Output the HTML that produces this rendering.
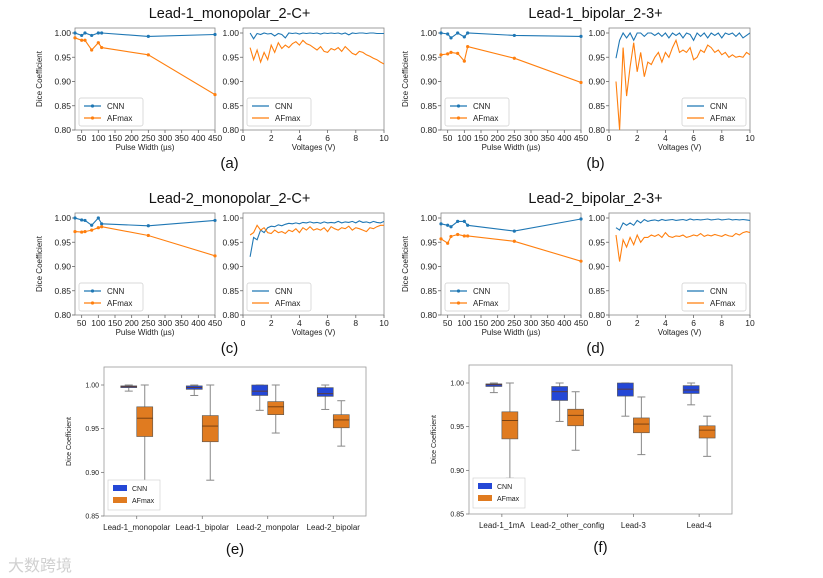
<!DOCTYPE html>
<html><head><meta charset="utf-8">
<style>
html,body{margin:0;padding:0;background:#fff;}
svg{display:block;font-family:"Liberation Sans","Noto Sans CJK SC",sans-serif;}
</style></head>
<body>
<svg id="fig" width="823" height="578" viewBox="0 0 823 578" xmlns="http://www.w3.org/2000/svg">
<text x="8" y="571" font-size="16" fill="#d0d0d0">大数跨境</text>
</svg>
<script>
// ---- Data ----
const pulseWidths = [30, 50, 60, 80, 100, 110, 250, 450];
const voltages = [0.5,0.75,1,1.25,1.5,1.75,2,2.25,2.5,2.75,3,3.25,3.5,3.75,4,4.25,4.5,4.75,5,5.25,5.5,5.75,6,6.25,6.5,6.75,7,7.25,7.5,7.75,8,8.25,8.5,8.75,9,9.25,9.5,9.75,10];
const yTicks = [0.80, 0.85, 0.90, 0.95, 1.00];
const pwTicks = [50,100,150,200,250,300,350,400,450];
const vTicks = [0,2,4,6,8,10];

const aPwCnn = [1.0,0.995,1.0,0.995,1.0,1.0,0.993,0.997];
const aPwAf  = [0.99,0.985,0.985,0.965,0.98,0.97,0.955,0.873];
const bPwCnn = [1.0,0.998,0.99,1.0,0.992,1.0,0.995,0.993];
const bPwAf  = [0.955,0.957,0.96,0.958,0.942,0.972,0.948,0.898];
const cPwCnn = [1.0,0.996,0.995,0.985,1.0,0.988,0.984,0.995];
const cPwAf  = [0.972,0.971,0.972,0.975,0.98,0.982,0.964,0.922];
const dPwCnn = [0.988,0.985,0.982,0.993,0.993,0.985,0.973,0.998];
const dPwAf  = [0.957,0.948,0.962,0.966,0.963,0.963,0.952,0.911];

const aVCnn = [1.0,0.988,0.999,0.997,1.0,0.998,0.999,0.994,0.999,0.997,0.990,1.0,0.999,1.0,0.998,1.0,0.999,1.0,0.999,1.0,0.998,1.0,0.999,1.0,0.999,1.0,0.998,1.0,0.996,1.0,0.999,1.0,1.0,0.999,1.0,1.0,0.999,0.999,0.999];
const aVAf  = [0.970,0.945,0.965,0.940,0.960,0.945,0.975,0.960,0.980,0.968,0.975,0.970,0.978,0.982,0.975,0.985,0.978,0.975,0.970,0.965,0.972,0.962,0.960,0.968,0.965,0.970,0.962,0.972,0.965,0.958,0.955,0.962,0.960,0.955,0.952,0.948,0.945,0.940,0.936];
const bVCnn = [0.948,0.985,1.0,0.99,1.0,0.985,1.0,1.0,0.993,1.0,1.0,0.995,1.0,0.993,1.0,0.99,1.0,0.995,1.0,0.99,1.0,0.997,0.985,1.0,0.993,1.0,0.99,1.0,0.995,1.0,0.99,1.0,0.997,1.0,0.993,1.0,0.99,0.995,1.0];
const bVAf  = [0.90,0.80,0.97,0.87,0.93,0.98,0.92,0.96,0.91,0.94,0.935,0.95,0.96,0.94,0.96,0.95,0.97,0.985,0.96,0.965,0.96,0.97,0.945,0.95,0.965,0.96,0.975,0.97,0.96,0.965,0.955,0.96,0.95,0.955,0.95,0.952,0.95,0.96,0.955];
const cVCnn = [0.92,0.96,0.955,0.975,0.97,0.98,0.983,0.982,0.986,0.984,0.987,0.989,0.988,0.99,0.988,0.991,0.99,0.992,0.99,0.991,0.989,0.992,0.99,0.991,0.99,0.993,0.99,0.992,0.991,0.993,0.99,0.994,0.991,0.992,0.99,0.993,0.991,0.99,0.993];
const cVAf  = [0.965,0.97,0.985,0.975,0.98,0.97,0.968,0.975,0.97,0.972,0.968,0.975,0.972,0.978,0.97,0.98,0.975,0.982,0.975,0.978,0.975,0.98,0.972,0.982,0.978,0.975,0.98,0.978,0.983,0.975,0.98,0.978,0.975,0.972,0.98,0.978,0.982,0.985,0.985];
const dVCnn = [0.98,0.975,0.99,0.985,0.99,0.985,0.995,0.99,0.997,0.993,0.995,0.996,0.994,0.997,0.995,0.996,0.997,0.995,0.996,0.997,0.995,0.998,0.996,0.997,0.996,0.997,0.998,0.996,0.997,0.998,0.996,0.997,0.998,0.996,0.997,0.996,0.997,0.996,0.995];
const dVAf  = [0.965,0.91,0.955,0.94,0.96,0.945,0.965,0.95,0.96,0.96,0.965,0.962,0.966,0.96,0.97,0.962,0.96,0.963,0.962,0.965,0.96,0.962,0.965,0.963,0.968,0.962,0.965,0.963,0.966,0.964,0.962,0.966,0.963,0.962,0.968,0.965,0.97,0.972,0.97];

// box plots: [whiskerLow, q1, median, q3, whiskerHigh]
const eCategories = ["Lead-1_monopolar","Lead-1_bipolar","Lead-2_monpolar","Lead-2_bipolar"];
const eCnn = [[0.993,0.997,0.998,0.999,1.0],[0.988,0.995,0.997,0.999,1.0],[0.971,0.988,0.993,1.0,1.0],[0.972,0.987,0.990,0.997,1.0]];
const eAf  = [[0.890,0.941,0.962,0.975,1.0],[0.891,0.935,0.953,0.965,1.0],[0.945,0.966,0.975,0.981,1.0],[0.930,0.951,0.960,0.966,0.982]];
const fCategories = ["Lead-1_1mA","Lead-2_other_config","Lead-3","Lead-4"];
const fCnn = [[0.989,0.996,0.998,0.999,1.0],[0.956,0.980,0.990,0.996,1.0],[0.962,0.985,0.993,1.0,1.0],[0.975,0.988,0.992,0.997,1.0]];
const fAf  = [[0.891,0.936,0.957,0.967,1.0],[0.923,0.951,0.963,0.970,0.990],[0.918,0.943,0.953,0.960,0.984],[0.916,0.937,0.946,0.951,0.962]];
const boxTicks = [0.85,0.90,0.95,1.00];

// ---- Drawing ----
const NS = "http://www.w3.org/2000/svg";
const svg = document.getElementById("fig");
const BLUE = "#1f77b4", ORANGE = "#ff7f0e";
function mk(tag, attrs, parent){
  const e = document.createElementNS(NS, tag);
  for (const k in attrs) e.setAttribute(k, attrs[k]);
  (parent||svg).appendChild(e);
  return e;
}
function txt(x,y,s,size,anchor,parent,extra){
  const t = mk("text", Object.assign({x:x,y:y,"font-size":size,"text-anchor":anchor||"middle",fill:"#222"}, extra||{}), parent);
  t.textContent = s;
  return t;
}

function subplot(g, x0, x1, yTop, yBot, xmin, xmax, xt, xlabel, series, xs, markers, legendRight, showYLabel){
  const sx = v => x0 + (v - xmin) / (xmax - xmin) * (x1 - x0);
  const y100 = yTop + 5, y80 = yBot;
  const sy = v => y80 - (v - 0.80) / 0.20 * (y80 - y100);
  mk("rect",{x:x0,y:yTop,width:x1-x0,height:yBot-yTop,fill:"none",stroke:"#888","stroke-width":0.8},g);
  yTicks.forEach(v=>{
    mk("line",{x1:x0-3,x2:x0,y1:sy(v),y2:sy(v),stroke:"#666","stroke-width":0.8},g);
    txt(x0-4, sy(v)+3, v.toFixed(2), 8.5, "end", g);
  });
  xt.forEach(v=>{
    mk("line",{x1:sx(v),x2:sx(v),y1:yBot,y2:yBot+3,stroke:"#666","stroke-width":0.8},g);
    txt(sx(v), yBot+11, String(v), 8.5, "middle", g);
  });
  txt((x0+x1)/2, yBot+20, xlabel, 8, "middle", g);
  if (showYLabel) txt(0,0,"Dice Coefficient",8,"middle",g,{transform:`translate(${x0-33},${(yTop+yBot)/2}) rotate(-90)`});
  const clipId = "c"+Math.round(x0)+"_"+Math.round(yTop);
  const cp = mk("clipPath",{id:clipId},g);
  mk("rect",{x:x0,y:yTop,width:x1-x0,height:yBot-yTop},cp);
  series.forEach((s,i)=>{
    const col = i===0?BLUE:ORANGE;
    const pts = s.map((v,j)=>sx(xs[j]).toFixed(1)+","+sy(v).toFixed(1)).join(" ");
    const pl = mk("polyline",{points:pts,fill:"none",stroke:col,"stroke-width":1.1,"clip-path":`url(#${clipId})`},g);
    
    
    if (markers) s.forEach((v,j)=>{
      const c = mk("circle",{cx:sx(xs[j]),cy:sy(v),r:1.6,fill:col},g);
      
      
    });
  });
  // legend
  const lw = 64, lh = 28;
  const lx = legendRight ? x1 - lw - 4 : x0 + 4, ly = yBot - lh - 4;
  const lg = mk("g",{},g);
  
  
  mk("rect",{x:lx,y:ly,width:lw,height:lh,rx:2,fill:"#fff",stroke:"#ccc","stroke-width":0.7},lg);
  ["CNN","AFmax"].forEach((n,i)=>{
    const yy = ly + 8 + i*12;
    const col = i===0?BLUE:ORANGE;
    mk("line",{x1:lx+5,x2:lx+22,y1:yy,y2:yy,stroke:col,"stroke-width":1.2},lg);
    if (markers) mk("circle",{cx:lx+13.5,cy:yy,r:1.6,fill:col},lg);
    txt(lx+28, yy+3, n, 8, "start", lg);
  });
}

function linePanel(name, ox, oy, title, label, pwC, pwA, vC, vA, vLegendRight){
  const g = mk("g",{});
  
  
  const lx0 = ox + 75, lx1 = ox + 215, rx0 = ox + 243, rx1 = ox + 384;
  txt((lx0+rx1)/2, oy+18, title, 14.5, "middle", g, {fill:"#111"});
  subplot(g, lx0, lx1, oy+28, oy+130, 30, 450, pwTicks, "Pulse Width (µs)", [pwC,pwA], pulseWidths, true, false, true);
  subplot(g, rx0, rx1, oy+28, oy+130, 0, 10, vTicks, "Voltages (V)", [vC,vA], voltages, false, vLegendRight, false);
  txt((lx0+rx1)/2, oy+168, label, 15, "middle", g, {fill:"#111"});
}
linePanel("panel-a", 0, 0, "Lead-1_monopolar_2-C+", "(a)", aPwCnn, aPwAf, aVCnn, aVAf, false);
linePanel("panel-b", 366, 0, "Lead-1_bipolar_2-3+", "(b)", bPwCnn, bPwAf, bVCnn, bVAf, true);
linePanel("panel-c", 0, 185, "Lead-2_monopolar_2-C+", "(c)", cPwCnn, cPwAf, cVCnn, cVAf, false);
linePanel("panel-d", 366, 185, "Lead-2_bipolar_2-3+", "(d)", dPwCnn, dPwAf, dVCnn, dVAf, true);

function boxPanel(name, x0, x1, yTop, yBot, y100, cats, cnn, af, label){
  const g = mk("g",{});
  
  
  const sy = v => yBot - (v - 0.85) / 0.15 * (yBot - y100);
  const step = (x1 - x0) / cats.length;
  const cx = i => x0 + step*(i+0.5);
  mk("rect",{x:x0,y:yTop,width:x1-x0,height:yBot-yTop,fill:"none",stroke:"#999","stroke-width":0.8},g);
  boxTicks.forEach(v=>{
    mk("line",{x1:x0-3,x2:x0,y1:sy(v),y2:sy(v),stroke:"#666","stroke-width":0.7},g);
    txt(x0-5, sy(v)+2.5, v.toFixed(2), 7, "end", g);
  });
  txt(0,0,"Dice Coefficient",7,"middle",g,{transform:`translate(${x0-33},${(yTop+yBot)/2}) rotate(-90)`});
  cats.forEach((c,i)=>{
    mk("line",{x1:cx(i),x2:cx(i),y1:yBot,y2:yBot+3,stroke:"#666","stroke-width":0.7},g);
    txt(cx(i), yBot+14, c, 8, "middle", g);
    [[cnn[i],"#2447d6",-8,'cnn-box'],[af[i],"#e07b20",8,'afmax-box']].forEach(([d,col,off,nm])=>{
      const bx = cx(i)+off, w = 16;
      const bg = mk("g",{},g);
      
      
      mk("line",{x1:bx,x2:bx,y1:sy(d[0]),y2:sy(d[1]),stroke:"#888","stroke-width":1},bg);
      mk("line",{x1:bx,x2:bx,y1:sy(d[3]),y2:sy(d[4]),stroke:"#888","stroke-width":1},bg);
      mk("line",{x1:bx-4,x2:bx+4,y1:sy(d[0]),y2:sy(d[0]),stroke:"#888","stroke-width":1},bg);
      mk("line",{x1:bx-4,x2:bx+4,y1:sy(d[4]),y2:sy(d[4]),stroke:"#888","stroke-width":1},bg);
      mk("rect",{x:bx-w/2,y:sy(d[3]),width:w,height:Math.max(1.5,sy(d[1])-sy(d[3])),fill:col,stroke:"#555","stroke-width":0.6},bg);
      mk("line",{x1:bx-w/2,x2:bx+w/2,y1:sy(d[2]),y2:sy(d[2]),stroke:"#6b3a10","stroke-width":0.8},bg);
    });
  });
  const lx = x0+4, ly = yBot-36;
  const lg = mk("g",{},g);
  
  
  mk("rect",{x:lx,y:ly,width:52,height:30,fill:"#fff",stroke:"#ccc","stroke-width":0.6},lg);
  [["CNN","#2447d6"],["AFmax","#e07b20"]].forEach(([n,col],i)=>{
    mk("rect",{x:lx+5,y:ly+5+i*12,width:14,height:6,fill:col},lg);
    txt(lx+24, ly+11+i*12, n, 7, "start", lg);
  });
  txt((x0+x1)/2, yBot+38, label, 15, "middle", g, {fill:"#111"});
}
boxPanel("panel-e", 104, 366, 367, 516, 385, eCategories, eCnn, eAf, "(e)");
boxPanel("panel-f", 469, 732, 365, 514, 383, fCategories, fCnn, fAf, "(f)");
</script>
</body></html>
